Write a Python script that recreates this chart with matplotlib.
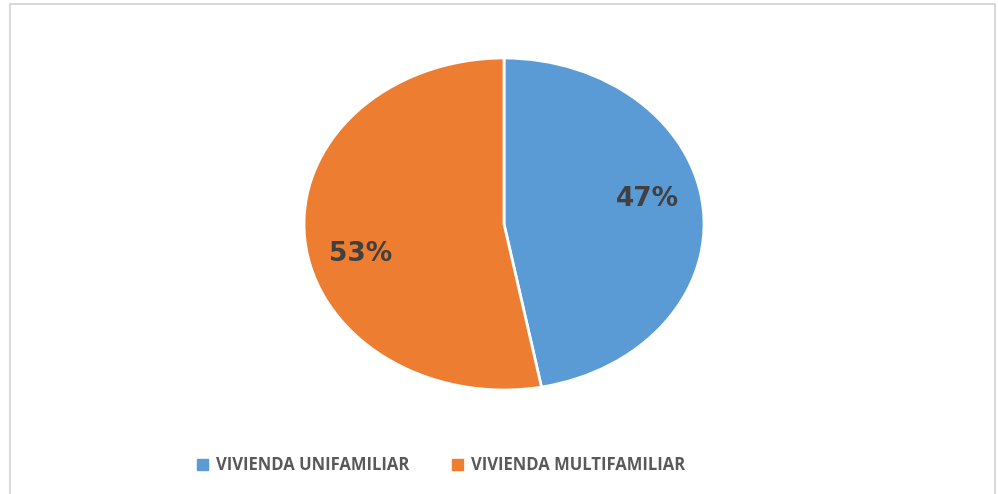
import matplotlib
matplotlib.use("Agg")
import matplotlib.pyplot as plt
from matplotlib.patches import Rectangle, Patch

categories = ["VIVIENDA UNIFAMILIAR", "VIVIENDA MULTIFAMILIAR"]
shares = [47, 53]
colors = ["#5B9BD5", "#ED7D31"]

plt.rcParams['font.family'] = ['Open Sans', 'DejaVu Sans']

W, H = 998, 494
fig = plt.figure(figsize=(W / 100, H / 100), dpi=100)

# chart frame (bottom edge is outside the picture)
fig.patches.append(Rectangle((10 / W, -0.01), 985 / W, (H - 4) / H + 0.01,
                             transform=fig.transFigure, fill=False,
                             edgecolor="#d9d9d9", linewidth=1.5))

# pie is stretched: 400 px wide, 332 px tall, centre at (504, 224)
ax = fig.add_axes([304 / W, (H - 390) / H, 400 / W, 332 / H])
wedges, texts, autotexts = ax.pie(
    shares, colors=colors, startangle=90, counterclock=False,
    autopct=lambda p: "%d%%" % round(p), pctdistance=0.72,
    wedgeprops=dict(edgecolor="white", linewidth=2),
    textprops=dict(fontsize=19, fontweight="bold", color="#404040",
                   family="DejaVu Sans"))
ax.set_aspect("auto")
ax.set_xlim(-1, 1)
ax.set_ylim(-1, 1)

# nudge labels like the original's best-fit placement
for t in autotexts:
    x, y = t.get_position()
    t.set_position((x, y + (0.08 if y > 0 else -0.11)))

handles = [Patch(facecolor=c, edgecolor=c) for c in colors]
fig.legend(handles, categories, loc="center", ncol=2,
           bbox_to_anchor=(441 / W, 1 - 465 / H), frameon=False,
           handlelength=0.65, handleheight=0.65, handletextpad=0.45,
           columnspacing=2.6,
           prop=dict(size=12, weight="bold"), labelcolor="#595959")

fig.savefig("out.png", dpi=100)
